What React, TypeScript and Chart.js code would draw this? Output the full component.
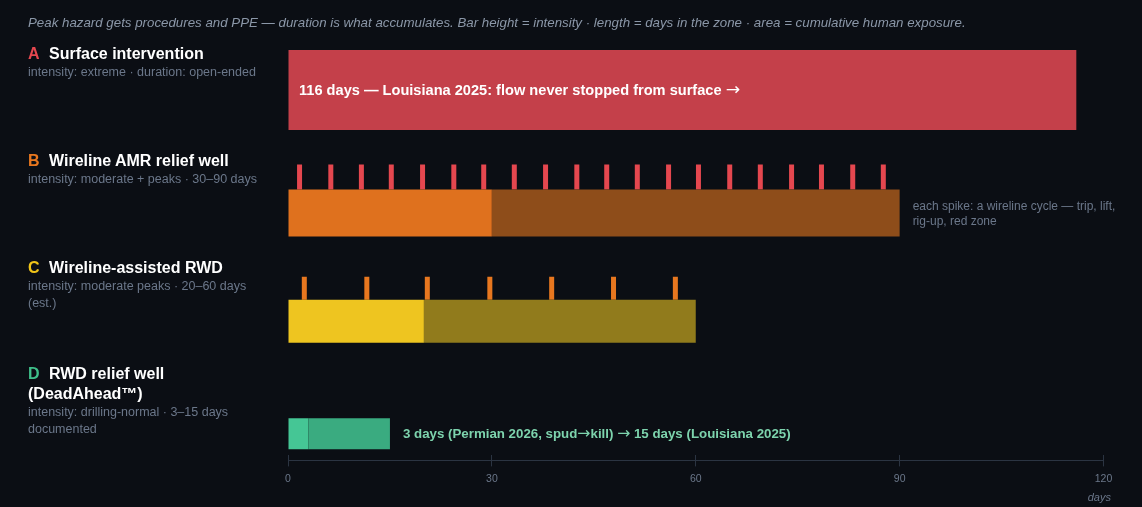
import React, { useEffect, useRef } from 'react';
import { Chart, registerables } from 'chart.js';

Chart.register(...registerables);

// ---------- data ----------
const CAPTION =
  'Peak hazard gets procedures and PPE — duration is what accumulates. Bar height = intensity · length = days in the zone · area = cumulative human exposure.';
const ROW_LETTERS = ['A', 'B', 'C', 'D'];
const ROW_TITLES = [
  'Surface intervention',
  'Wireline AMR relief well',
  'Wireline-assisted RWD',
  'RWD relief well (DeadAhead™)',
];
const ROW_SUBTITLES = [
  'intensity: extreme · duration: open-ended',
  'intensity: moderate + peaks · 30–90 days',
  'intensity: moderate peaks · 20–60 days (est.)',
  'intensity: drilling-normal · 3–15 days documented',
];
const A_SEGMENTS = [[0, 116]];
const B_SEGMENTS = [[0, 30], [30, 90]];
const C_SEGMENTS = [[0, 20], [20, 60]];
const D_SEGMENTS = [[0, 3], [3, 15]];
const B_SPIKES = [1.7, 6.3, 10.8, 15.2, 19.8, 24.4, 28.8, 33.3, 37.9, 42.5, 46.9, 51.4, 56.0, 60.4, 65.0, 69.5, 74.1, 78.5, 83.1, 87.6];
const C_SPIKES = [2.4, 11.6, 20.5, 29.7, 38.8, 47.9, 57.0];
const X_MIN = 0;
const X_MAX = 120;
const X_STEP = 30;
const X_TITLE = 'days';
const A_LABEL = '116 days — Louisiana 2025: flow never stopped from surface →';
const B_NOTE = 'each spike: a wireline cycle — trip, lift, rig-up, red zone';
const D_LABEL = '3 days (Permian 2026, spud→kill) → 15 days (Louisiana 2025)';

// ---------- layout & style ----------
const W = 1142;
const H = 507;
const PLOT_LEFT = 288;
const PLOT_RIGHT = 1103.5;
// the hidden vertical layout axis runs in page pixels over the plot area
const PLOT_TOP = 17.5;
const PLOT_BOTTOM = 455.4;
const ROW_TOP0 = 44;
const ROW_PITCH = 106.8;
const ROW_BOTTOM = [130, 236.4, 342.8, 449.2];
const BAR_H = [80, 47, 43, 31];
const SPIKE_H = [25, 23];
const SPIKE_W = 5;

const FONT = '"Liberation Sans", Arial, Helvetica, sans-serif';
const ARROW_FONT = '"DejaVu Sans", "Liberation Sans", sans-serif';
const BG = '#0b0e14';
const GREY = '#6b778a';
const AXIS = '#2b3442';
const LETTER_COLORS = ['#e5474f', '#e8771f', '#f0c419', '#3fbf8a'];
const A_COLORS = ['#c4404a'];
const B_COLORS = ['#df711e', '#8e4d1a'];
const C_COLORS = ['#eec520', '#917b1c'];
const D_COLORS = ['#45c695', '#3aab80'];
const B_SPIKE_COLOR = '#e5474f';
const C_SPIKE_COLOR = '#e8771f';
const D_LABEL_COLOR = '#7dd3ad';

const px = (d: number) => PLOT_LEFT + ((d - X_MIN) / (X_MAX - X_MIN)) * (PLOT_RIGHT - PLOT_LEFT);

function withArrows(text: string) {
  const parts = text.split('→');
  const out: React.ReactNode[] = [];
  parts.forEach((p, i) => {
    out.push(p);
    if (i < parts.length - 1)
      out.push(
        <span key={i} style={{ fontFamily: ARROW_FONT, fontWeight: 400, fontSize: '1.18em', lineHeight: 0 }}>
          →
        </span>
      );
  });
  return out;
}

function segDataset(segs: number[][], row: number, colors: string[]) {
  return {
    type: 'bar' as const,
    indexAxis: 'y' as const,
    grouped: false,
    barThickness: BAR_H[row],
    inflateAmount: 0,
    borderWidth: 0,
    backgroundColor: colors,
    xAxisID: 'x',
    yAxisID: 'y',
    data: segs.map((s) => ({ x: s, y: ROW_BOTTOM[row] - BAR_H[row] / 2 })),
  };
}

function spikeDataset(days: number[], row: number, h: number, color: string) {
  return {
    type: 'scatter' as const,
    showLine: false,
    pointStyle: 'line',
    pointRotation: 90,
    pointRadius: h / 2,
    pointHoverRadius: h / 2,
    pointBorderWidth: SPIKE_W,
    pointHoverBorderWidth: SPIKE_W,
    pointBorderColor: color,
    pointBackgroundColor: color,
    xAxisID: 'x',
    yAxisID: 'y',
    data: days.map((d) => ({ x: d, y: ROW_BOTTOM[row] - BAR_H[row] - h / 2 })),
  };
}

export default function App() {
  const ref = useRef<HTMLCanvasElement | null>(null);

  useEffect(() => {
    if (!ref.current) return;
    Chart.defaults.font.family = FONT;
    const chart = new Chart(ref.current, {
      type: 'bar',
      data: {
        datasets: [
          segDataset(A_SEGMENTS, 0, A_COLORS),
          segDataset(B_SEGMENTS, 1, B_COLORS),
          spikeDataset(B_SPIKES, 1, SPIKE_H[0], B_SPIKE_COLOR),
          segDataset(C_SEGMENTS, 2, C_COLORS),
          spikeDataset(C_SPIKES, 2, SPIKE_H[1], C_SPIKE_COLOR),
          segDataset(D_SEGMENTS, 3, D_COLORS),
        ] as any,
      },
      options: {
        animation: false,
        responsive: false,
        events: [],
        indexAxis: 'y',
        layout: { padding: { left: PLOT_LEFT, right: W - PLOT_RIGHT, top: 0, bottom: 16 } },
        plugins: { legend: { display: false }, tooltip: { enabled: false } },
        scales: {
          x: {
            type: 'linear',
            position: 'bottom',
            weight: 1,
            min: X_MIN,
            max: X_MAX,
            ticks: { stepSize: X_STEP, color: GREY, font: { family: FONT, size: 10.5 }, padding: 6 },
            grid: { drawOnChartArea: false, drawTicks: true, tickLength: 6, color: AXIS, lineWidth: 1 },
            border: { display: true, color: AXIS, width: 1 },
          },
          x2: {
            type: 'linear',
            axis: 'x',
            position: 'bottom',
            weight: 0,
            min: X_MIN,
            max: X_MAX,
            ticks: { stepSize: X_STEP, display: false },
            grid: { drawOnChartArea: false, drawTicks: true, tickLength: 5, color: AXIS, lineWidth: 1 },
            border: { display: false },
          },
          y: {
            type: 'linear',
            display: false,
            offset: false,
            min: PLOT_TOP,
            max: PLOT_BOTTOM,
            reverse: true,
            ticks: { stepSize: 1000 },
            grid: { offset: false },
          },
        },
      } as any,
    });
    return () => chart.destroy();
  }, []);

  const abs = (s: React.CSSProperties): React.CSSProperties => ({ position: 'absolute', margin: 0, ...s });

  return (
    <div style={{ position: 'fixed', left: 0, top: 0, width: W, height: H, background: BG, fontFamily: FONT, overflow: 'hidden' }}>
      <canvas ref={ref} width={W} height={H} style={{ position: 'absolute', left: 0, top: 0, width: W, height: H }} />
      <div style={abs({ left: 28, top: 15, lineHeight: '16px', fontSize: 13.3, fontStyle: 'italic', color: '#8b97a8', whiteSpace: 'nowrap' })}>
        {CAPTION}
      </div>
      {ROW_LETTERS.map((L, i) => (
        <div key={L} style={abs({ left: 28, top: ROW_TOP0 + i * ROW_PITCH, width: 240 })}>
          <div style={{ fontSize: 16, fontWeight: 700, lineHeight: '20px', color: '#ffffff' }}>
            <span style={{ display: 'inline-block', width: 21, color: LETTER_COLORS[i] }}>{L}</span>
            {ROW_TITLES[i]}
          </div>
          <div style={{ fontSize: 12.5, lineHeight: '17px', color: GREY }}>{ROW_SUBTITLES[i]}</div>
        </div>
      ))}
      <div style={abs({ left: px(0) + 11, top: 90 - 10, lineHeight: '20px', fontSize: 14.6, fontWeight: 700, color: '#ffffff', whiteSpace: 'nowrap' })}>
        {withArrows(A_LABEL)}
      </div>
      <div style={abs({ left: px(90) + 13, top: 206 - 7.5, width: 215, lineHeight: '15px', fontSize: 12, color: GREY })}>
        {B_NOTE}
      </div>
      <div style={abs({ left: px(15) + 13, top: 434 - 9, lineHeight: '18px', fontSize: 13.3, fontWeight: 700, color: D_LABEL_COLOR, whiteSpace: 'nowrap' })}>
        {withArrows(D_LABEL)}
      </div>
      <div style={abs({ right: W - 1111, top: 497 - 7, lineHeight: '14px', fontSize: 11, fontStyle: 'italic', color: GREY })}>
        {X_TITLE}
      </div>
    </div>
  );
}
